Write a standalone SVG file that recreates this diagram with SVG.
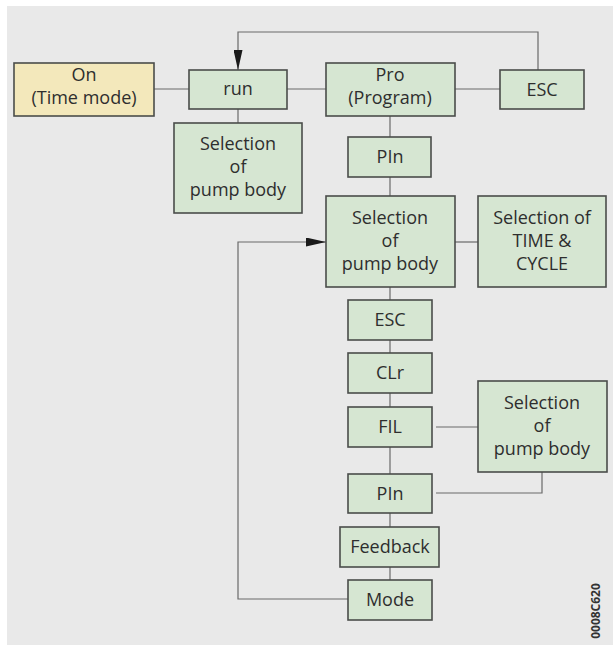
<svg xmlns="http://www.w3.org/2000/svg" width="613" height="645" viewBox="0 0 613 645">
<defs>
<marker id="arr" viewBox="0 0 20 9" refX="20" refY="4.5" markerWidth="20" markerHeight="9" markerUnits="userSpaceOnUse" orient="auto">
<path d="M0,0 L20,4.5 L0,9 Z" fill="#1a1a1a"/>
</marker>
<style>
.box{fill:#d6e6d2;stroke:#4a4d4a;stroke-width:1.6}
.yel{fill:#f3e8bb;stroke:#4a4d4a;stroke-width:1.6}
.t{font-family:"Open Sans","Noto Sans",sans-serif;font-size:18px;fill:#2e2e2e;text-anchor:middle}
.c{fill:none;stroke:#6a6a6a;stroke-width:1.2}
</style>
</defs>
<rect x="0" y="0" width="613" height="645" fill="#ffffff"/>
<rect x="7" y="6" width="606" height="639" fill="#e9e9e9"/>
<g id="connectors">
<line class="c" x1="154" y1="89" x2="189" y2="89"/>
<line class="c" x1="287" y1="89" x2="326" y2="89"/>
<line class="c" x1="455" y1="89" x2="500" y2="89"/>
<polyline class="c" points="538,70 538,32 238,32 238,70" marker-end="url(#arr)"/>
<line class="c" x1="238" y1="109" x2="238" y2="123"/>
<line class="c" x1="390" y1="116" x2="390" y2="137"/>
<line class="c" x1="390" y1="177" x2="390" y2="196"/>
<line class="c" x1="455" y1="242" x2="478" y2="242"/>
<line class="c" x1="390" y1="287" x2="390" y2="300"/>
<line class="c" x1="390" y1="340" x2="390" y2="353"/>
<line class="c" x1="390" y1="393" x2="390" y2="407"/>
<line class="c" x1="390" y1="447" x2="390" y2="474"/>
<line class="c" x1="390" y1="513" x2="390" y2="527"/>
<line class="c" x1="390" y1="567" x2="390" y2="580"/>
<line class="c" x1="436" y1="427" x2="478" y2="427"/>
<polyline class="c" points="436,493 542,493 542,472"/>
<polyline class="c" points="348,599 238,599 238,242 326,242" marker-end="url(#arr)"/>
</g>
<g id="on">
<rect class="yel" x="14" y="63" width="140" height="53"/>
<text class="t" x="84" y="81">On</text>
<text class="t" x="84" y="104">(Time mode)</text>
</g>
<g id="run">
<rect class="box" x="189" y="70" width="98" height="39"/>
<text class="t" x="238" y="95">run</text>
</g>
<g id="sel1">
<rect class="box" x="174" y="123" width="128" height="90"/>
<text class="t" x="238" y="150">Selection</text>
<text class="t" x="238" y="173">of</text>
<text class="t" x="238" y="196">pump body</text>
</g>
<g id="pro">
<rect class="box" x="326" y="63" width="129" height="53"/>
<text class="t" x="390" y="81">Pro</text>
<text class="t" x="390" y="104">(Program)</text>
</g>
<g id="esc1">
<rect class="box" x="500" y="70" width="84" height="39"/>
<text class="t" x="542" y="96">ESC</text>
</g>
<g id="pin1">
<rect class="box" x="348" y="137" width="83" height="40"/>
<text class="t" x="390" y="163">PIn</text>
</g>
<g id="sel2">
<rect class="box" x="326" y="196" width="129" height="91"/>
<text class="t" x="390" y="224">Selection</text>
<text class="t" x="390" y="247">of</text>
<text class="t" x="390" y="270">pump body</text>
</g>
<g id="timecycle">
<rect class="box" x="478" y="196" width="128" height="91"/>
<text class="t" x="542" y="224">Selection of</text>
<text class="t" x="542" y="247">TIME &amp;</text>
<text class="t" x="542" y="270">CYCLE</text>
</g>
<g id="esc2">
<rect class="box" x="348" y="300" width="84" height="40"/>
<text class="t" x="390" y="326">ESC</text>
</g>
<g id="clr">
<rect class="box" x="348" y="353" width="84" height="40"/>
<text class="t" x="390" y="379">CLr</text>
</g>
<g id="fil">
<rect class="box" x="348" y="407" width="84" height="40"/>
<text class="t" x="390" y="433">FIL</text>
</g>
<g id="sel3">
<rect class="box" x="478" y="381" width="129" height="91"/>
<text class="t" x="542" y="409">Selection</text>
<text class="t" x="542" y="432">of</text>
<text class="t" x="542" y="455">pump body</text>
</g>
<g id="pin2">
<rect class="box" x="348" y="474" width="84" height="39"/>
<text class="t" x="390" y="500">PIn</text>
</g>
<g id="feedback">
<rect class="box" x="340" y="527" width="99" height="40"/>
<text class="t" x="390" y="553">Feedback</text>
</g>
<g id="mode">
<rect class="box" x="348" y="580" width="84" height="40"/>
<text class="t" x="390" y="606">Mode</text>
</g>
<text x="0" y="0" transform="translate(600,611) rotate(-90)" font-family="'Open Sans','Noto Sans',sans-serif" font-size="12" font-weight="bold" fill="#333" text-anchor="middle">0008C620</text>
</svg>
